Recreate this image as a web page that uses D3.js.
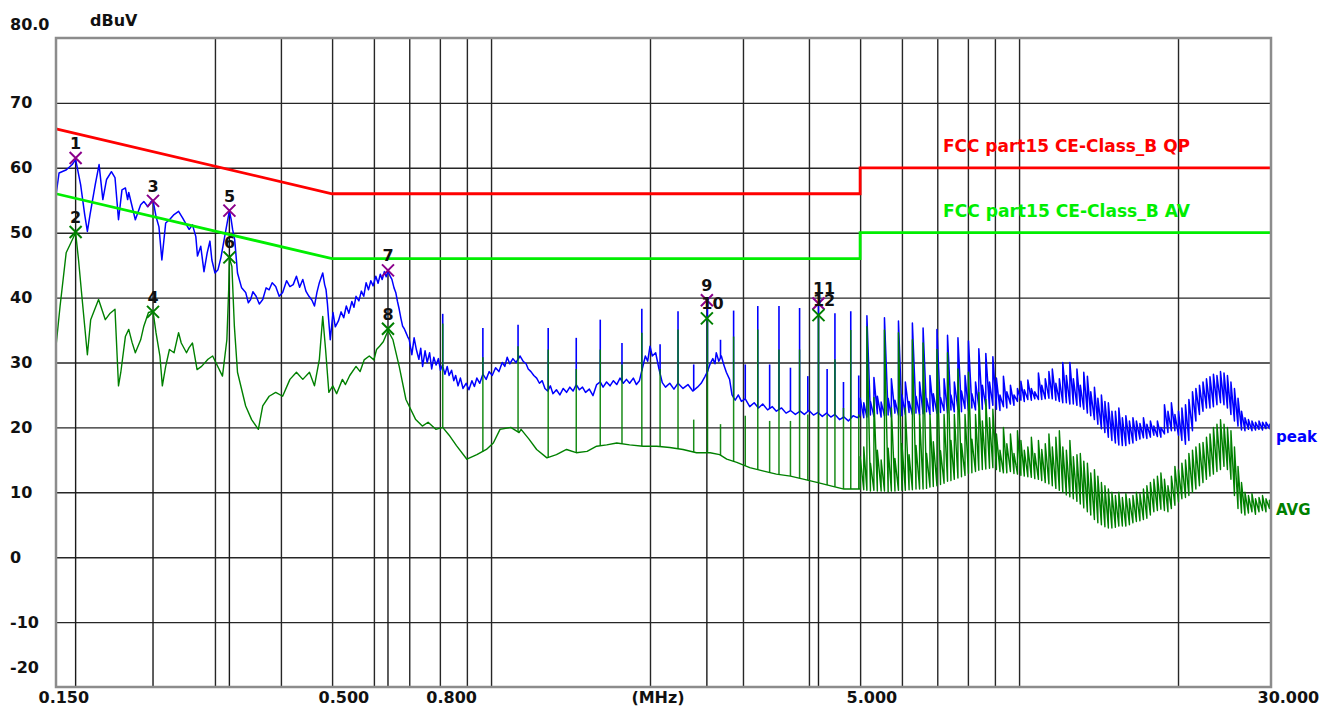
<!DOCTYPE html>
<html><head><meta charset="utf-8">
<script src="https://cdn.jsdelivr.net/npm/d3@7"></script>
<style>
html,body{margin:0;padding:0;background:#fff;}
svg{display:block;}
</style></head><body>
<svg id="chart" width="1319" height="709"></svg>
<script>
// ---------- data ----------
const yTicks = [80, 70, 60, 50, 40, 30, 20, 10, 0, -10, -20];
const xGridFreqs = [0.3, 0.4, 0.5, 0.6, 0.7, 0.8, 0.9, 1, 2, 3, 4, 5, 6, 7, 8, 9, 10, 20];
const xLabelFreqs = [0.15, 0.5, 0.8, 5, 30];

const qpLimit = [[0.15, 66], [0.5, 56], [5, 56], [5, 60], [30, 60]];
const avLimit = [[0.15, 56], [0.5, 46], [5, 46], [5, 50], [30, 50]];
const qpLabel = "FCC part15 CE-Class_B QP";
const avLabel = "FCC part15 CE-Class_B AV";

// peak trace below 5 MHz (MHz, dBuV)
const peakData = [
[0.150,55.8],[0.152,59.2],[0.157,59.7],[0.161,60.5],[0.1634,61.3],[0.167,57.4],[0.170,52.8],[0.172,50.2],[0.174,52.8],[0.178,57.4],
[0.181,60.5],[0.184,55.1],[0.187,58.2],[0.191,59.4],[0.194,58.5],[0.197,52.0],[0.200,56.6],[0.203,56.9],[0.205,55.1],[0.206,56.2],
[0.212,52.0],[0.217,54.3],[0.220,54.8],[0.224,54.0],[0.227,54.8],[0.229,55.0],[0.232,52.5],[0.235,50.9],[0.238,45.8],[0.242,51.5],
[0.246,52.0],[0.251,52.8],[0.256,53.3],[0.2605,52.3],[0.265,51.2],[0.268,50.5],[0.272,51.2],[0.276,49.4],[0.278,46.4],[0.282,47.9],
[0.286,44.0],[0.290,46.9],[0.2935,48.7],[0.296,45.8],[0.300,43.8],[0.304,44.3],[0.308,46.2],[0.313,49.4],[0.3195,53.4],[0.322,52.0],
[0.324,50.5],[0.327,48.9],[0.331,43.8],[0.337,41.5],[0.343,40.8],[0.347,39.2],[0.3505,39.7],[0.354,40.9],[0.359,40.2],[0.364,39.0],
[0.3695,39.7],[0.375,41.5],[0.380,41.2],[0.385,42.3],[0.391,41.7],[0.397,40.2],[0.403,40.8],[0.410,42.6],[0.416,41.7],[0.422,42.0],
[0.428,43.3],[0.434,41.6],[0.440,42.8],[0.446,41.0],[0.452,40.2],[0.458,39.6],[0.463,38.7],[0.468,40.8],[0.473,42.3],[0.480,43.8],
[0.484,42.0],[0.487,41.2],[0.490,39.0],[0.493,36.2],[0.496,33.5],[0.502,37.7],[0.507,35.5],[0.514,36.4],[0.520,37.8],[0.526,36.9],
[0.532,38.7],[0.538,37.6],[0.545,39.4],[0.550,38.5],[0.555,40.2],[0.562,39.5],[0.568,41.0],[0.574,40.2],[0.580,42.3],[0.586,41.2],
[0.592,42.6],[0.598,41.8],[0.605,43.3],[0.611,42.2],[0.617,43.6],[0.622,42.8],[0.628,44.0],[0.633,43.2],[0.638,44.1],[0.644,43.3],
[0.649,42.8],[0.655,41.5],[0.660,40.8],[0.665,39.4],[0.670,38.2],[0.675,36.8],[0.680,35.6],[0.685,35.2],[0.690,34.6],[0.695,34.0],
[0.700,33.5],[0.708,31.2],[0.715,33.8],[0.722,32.0],[0.730,30.5],[0.736,32.2],[0.742,29.4],[0.750,31.8],[0.757,30.0],[0.765,31.5],
[0.772,29.0],[0.779,30.8],[0.787,29.6],[0.795,30.6],[0.802,28.8],[0.809,29.6],[0.818,28.2],[0.826,29.4],[0.833,28.0],[0.842,28.8],
[0.850,27.2],[0.857,28.0],[0.866,26.4],[0.875,27.6],[0.885,26.0],[0.897,26.8],[0.908,25.8],[0.920,27.2],[0.930,26.3],[0.940,27.6],
[0.952,26.8],[0.965,28.2],[0.979,27.4],[0.992,28.6],[1.005,28.0],[1.020,29.2],[1.035,28.6],[1.050,30.0],[1.062,29.4],[1.073,30.8],
[1.085,29.8],[1.100,30.6],[1.115,30.0],[1.135,31.0],[1.150,30.2],[1.165,29.8],[1.176,29.0],[1.190,28.6],[1.205,28.0],[1.220,27.6],
[1.235,26.8],[1.250,27.2],[1.265,26.0],[1.280,25.6],[1.295,26.4],[1.310,25.2],[1.330,25.8],[1.350,25.0],[1.370,26.0],[1.390,25.4],
[1.410,26.2],[1.430,25.6],[1.450,26.6],[1.470,25.8],[1.490,26.2],[1.510,25.4],[1.535,25.9],[1.560,24.9],[1.585,26.6],[1.610,27.0],
[1.630,26.2],[1.655,27.0],[1.680,26.4],[1.705,27.2],[1.730,26.6],[1.755,27.6],[1.780,26.8],[1.805,27.4],[1.830,26.8],[1.860,27.6],
[1.885,26.6],[1.910,27.2],[1.940,29.5],[1.960,31.0],[1.980,30.2],[2.000,32.5],[2.020,31.0],[2.050,31.5],[2.080,29.0],[2.110,26.9],
[2.140,26.2],[2.180,26.8],[2.220,25.9],[2.260,26.8],[2.310,26.0],[2.360,26.6],[2.410,25.6],[2.460,26.2],[2.500,26.8],[2.540,27.8],
[2.570,28.6],[2.600,29.8],[2.630,30.6],[2.655,29.8],[2.670,31.5],[2.700,30.2],[2.730,31.0],[2.760,29.6],[2.790,28.5],[2.830,27.4],
[2.860,25.0],[2.900,24.2],[2.940,25.0],[2.980,24.0],[3.030,24.4],[3.090,23.2],[3.150,23.8],[3.210,23.0],[3.270,23.6],[3.340,22.7],
[3.410,23.2],[3.470,22.5],[3.550,23.0],[3.620,22.2],[3.690,22.6],[3.770,22.0],[3.850,22.5],[3.920,22.0],[4.000,22.6],[4.080,21.9],
[4.160,22.3],[4.240,21.7],[4.320,22.2],[4.400,21.6],[4.480,22.0],[4.570,21.2],[4.660,21.6],[4.750,21.0],[4.850,21.8],[4.940,21.5]
];

// average trace below 5 MHz (MHz, dBuV)
const avgData = [
[0.150,32.5],[0.1527,38.7],[0.1568,46.9],[0.1634,50.0],[0.1655,45.8],[0.1677,40.7],[0.172,31.2],[0.1745,36.6],[0.1806,39.7],[0.186,36.6],
[0.190,37.6],[0.194,38.2],[0.197,26.4],[0.199,28.5],[0.203,34.0],[0.206,35.1],[0.209,33.1],[0.212,31.5],[0.217,33.5],[0.220,35.6],
[0.2245,37.7],[0.229,37.9],[0.232,34.6],[0.236,31.0],[0.2385,26.4],[0.242,29.4],[0.246,32.0],[0.251,31.5],[0.256,34.6],[0.259,33.0],
[0.265,31.5],[0.268,32.3],[0.272,33.0],[0.2775,28.9],[0.283,29.4],[0.291,30.5],[0.297,31.0],[0.310,27.9],[0.316,33.5],[0.3185,41.2],
[0.3195,46.1],[0.323,44.8],[0.3265,35.6],[0.331,28.5],[0.343,23.3],[0.352,21.2],[0.3625,19.7],[0.3695,23.3],[0.380,24.8],[0.391,25.4],
[0.403,24.8],[0.416,27.4],[0.428,28.5],[0.440,27.4],[0.453,28.5],[0.463,26.4],[0.473,30.5],[0.480,37.1],[0.486,32.0],[0.493,25.4],
[0.5015,26.4],[0.510,25.2],[0.523,27.4],[0.530,26.6],[0.540,28.0],[0.555,29.4],[0.565,28.6],[0.575,30.4],[0.588,31.0],[0.600,30.4],
[0.607,32.0],[0.615,32.5],[0.625,33.2],[0.638,34.9],[0.652,33.5],[0.670,29.4],[0.690,24.3],[0.720,21.2],[0.741,20.2],[0.760,20.8],
[0.786,19.7],[0.810,20.0],[0.833,18.8],[0.860,17.2],[0.900,15.1],[0.940,15.8],[0.980,16.6],[1.010,17.6],[1.040,19.7],[1.090,20.0],
[1.130,19.2],[1.140,19.7],[1.180,18.2],[1.220,16.6],[1.276,15.3],[1.330,15.8],[1.390,16.6],[1.450,16.1],[1.520,16.3],[1.585,17.1],
[1.656,17.3],[1.730,17.6],[1.830,17.3],[1.940,17.1],[2.060,17.1],[2.180,16.9],[2.310,16.6],[2.450,16.1],[2.600,16.1],[2.710,15.8],
[2.795,15.1],[2.920,14.6],[3.090,13.8],[3.270,13.3],[3.470,12.8],[3.690,12.5],[3.920,12.0],[4.160,11.5],[4.400,11.0],[4.660,10.5],
[4.940,10.5]
];

// harmonic spikes 0.8 - 5 MHz: frequency, peak top, average top
const spikeFreq = [0.81,0.965,1.125,1.283,1.45,1.61,1.77,1.93,2.09,2.26,2.42,2.57,2.72,2.88,3.03,3.20,3.37,3.51,3.69,3.84,
  3.98,4.17,4.33,4.48,4.65,4.80,4.97];
const spikePeak = [37.5,35.3,35.8,35.3,33.8,36.6,33.0,38.3,32.8,37.9,29.7,39.5,33.5,38.0,29.7,38.7,29.7,38.7,29.2,38.4,
  27.9,38.9,29.0,37.6,27.0,37.9,28.0];
const spikeAvg = [36.0,30.8,32.5,32.0,29.0,32.0,29.7,34.6,29.0,35.1,21.2,36.7,20.5,34.0,21.8,35.1,21.0,32.0,21.0,32.0,
  22.0,37.3,22.0,30.5,23.0,35.0,22.0];

// sweep 5 - 30 MHz: frequency, peak low, peak high, average low, average high
const hfSweep = [
[5.00,21.8,24.5,10.5,15.5],[5.08,21.5,23.8,10.4,17.0],[5.15,21.6,37.2,10.3,35.5],[5.23,21.9,24.0,10.2,14.5],[5.31,21.7,27.7,10.3,24.6],
[5.39,22.1,24.8,10.2,16.5],[5.48,21.6,23.9,10.2,15.0],[5.56,21.8,36.9,10.2,35.0],[5.65,21.9,24.5,10.1,16.8],[5.73,21.6,27.5,10.2,23.0],
[5.82,22.2,24.2,10.2,15.2],[5.91,21.9,36.4,10.3,34.6],[6.00,21.8,25.0,10.3,17.5],[6.09,22.0,27.0,10.3,23.0],[6.19,22.3,24.0,10.4,15.8],
[6.28,22.0,36.1,10.4,33.5],[6.38,22.2,24.8,10.5,17.2],[6.48,21.9,27.0,10.5,22.0],[6.58,22.1,35.3,10.5,33.0],[6.68,22.4,24.5,10.6,16.0],
[6.78,22.0,28.0,10.8,22.0],[6.88,22.5,25.2,10.9,17.8],[6.99,22.2,35.1,11.0,32.0],[7.10,22.3,24.6,11.2,16.4],[7.21,22.6,27.5,11.4,22.0],
[7.32,22.2,34.2,11.7,31.5],[7.43,22.7,25.0,11.8,18.0],[7.54,22.4,27.0,12.0,22.0],[7.66,22.8,33.8,12.2,29.0],[7.78,22.4,25.6,12.4,17.5],
[7.90,22.9,28.0,12.6,22.0],[8.02,22.6,33.3,12.9,28.5],[8.14,23.0,25.2,13.0,18.2],[8.27,22.7,27.0,13.2,22.0],[8.39,23.2,32.1,13.4,25.4],
[8.52,22.8,26.5,13.5,21.0],[8.65,23.3,31.4,13.6,24.3],[8.79,22.9,27.0,13.7,21.5],[8.92,23.4,30.9,13.8,22.8],[9.06,22.8,27.6,13.5,19.0],
[9.20,22.6,25.0,13.2,16.5],[9.34,23.2,27.9,13.0,20.0],[9.48,23.0,25.5,13.0,17.5],[9.63,23.6,26.5,13.2,19.0],[9.78,23.4,25.0,12.9,16.0],
[9.93,24.0,26.0,12.8,19.5],[10.08,24.2,27.1,12.6,18.0],[10.23,24.0,25.8,12.5,16.5],[10.39,24.3,27.3,12.4,17.0],[10.55,24.2,26.0,12.3,18.5],
[10.71,24.4,25.5,12.1,16.0],[10.88,24.3,28.4,12.0,18.0],[11.04,24.3,26.5,11.8,16.6],[11.21,24.4,27.5,11.5,17.5],[11.39,24.5,28.6,11.3,19.0],
[11.56,24.4,29.0,11.0,17.0],[11.74,24.2,26.8,10.6,18.5],[11.92,24.0,27.5,10.3,19.5],[12.10,23.8,30.0,10.0,17.0],[12.29,23.8,28.0,9.6,16.5],
[12.48,23.6,30.0,9.3,18.0],[12.67,23.6,27.5,9.0,15.5],[12.87,23.4,29.0,8.6,15.8],[13.06,23.2,26.5,8.2,16.0],[13.26,22.8,28.5,7.6,14.8],
[13.47,22.2,27.9,7.0,14.5],[13.67,21.8,25.5,6.5,13.0],[13.89,21.2,26.2,5.8,13.5],[14.10,20.5,24.5,5.3,12.5],[14.32,19.8,25.0,5.0,11.5],
[14.54,19.2,24.0,4.7,11.0],[14.76,18.5,23.8,4.5,10.5],[14.99,18.0,22.5,4.5,10.0],[15.22,17.6,22.5,4.6,9.5],[15.45,17.3,23.0,4.8,10.0],
[15.69,17.2,21.5,4.8,9.2],[15.93,17.2,21.8,4.8,9.8],[16.18,17.5,21.0,5.0,9.0],[16.43,17.6,21.5,5.3,9.5],[16.68,18.0,21.0,5.5,10.0],
[16.94,18.2,20.6,5.6,9.8],[17.20,18.4,21.5,5.8,10.5],[17.46,18.3,20.5,6.0,11.0],[17.73,18.5,21.0,6.5,11.5],[18.00,18.8,20.2,7.0,12.0],
[18.28,18.6,21.0,7.2,12.5],[18.56,18.5,20.0,7.4,13.0],[18.85,19.0,23.5,7.2,12.0],[19.14,19.2,22.5,7.0,11.0],[19.43,19.5,23.8,7.5,12.5],
[19.73,19.5,22.0,8.0,14.0],[20.04,18.8,22.5,8.5,13.5],[20.34,18.0,23.0,9.0,14.5],[20.66,17.4,23.5,9.2,15.0],[20.97,18.0,24.3,9.5,16.0],
[21.30,19.5,25.5,10.0,16.5],[21.62,21.0,26.0,10.5,17.0],[21.96,22.0,26.5,11.0,17.5],[22.30,22.5,27.0,11.5,17.7],[22.64,23.0,27.5,12.0,18.5],
[22.99,23.0,27.8,12.5,19.0],[23.34,23.2,28.2,12.8,20.0],[23.70,23.5,28.0,13.2,20.5],[24.07,23.8,28.6,13.5,21.2],[24.44,23.5,28.4,14.0,20.5],
[24.81,23.0,28.0,13.5,20.0],[25.19,22.0,27.0,12.0,19.5],[25.58,21.0,26.0,9.5,17.0],[25.98,20.2,24.5,7.5,14.0],[26.38,19.6,22.5,6.8,11.5],
[26.78,19.5,21.5,6.5,10.0],[27.19,19.7,21.2,6.8,9.5],[27.61,19.5,21.0,7.0,9.8],[28.04,19.6,20.8,6.6,9.0],[28.47,19.7,21.0,7.0,9.2],
[28.91,19.6,20.8,7.2,9.5],[29.35,19.8,20.8,7.0,9.0],[29.80,19.8,20.5,7.5,8.8],[30.00,19.8,20.2,7.8,8.2]
];

// markers
const markerNo    = [1, 2, 3, 4, 5, 6, 7, 8, 9, 10, 11, 12];
const markerFreq  = [0.1634, 0.1634, 0.229, 0.229, 0.3195, 0.3195, 0.638, 0.638, 2.563, 2.563, 4.17, 4.17];
const markerLevel = [61.5, 50.1, 54.9, 37.8, 53.4, 46.2, 44.2, 35.2, 39.6, 36.8, 39.1, 37.3];
const markerTrace = ["peak","avg","peak","avg","peak","avg","peak","avg","peak","avg","peak","avg"];

// ---------- drawing ----------
const L = 56, R = 1271, T = 38, B = 687;
const FONT = "'DejaVu Sans', Verdana, sans-serif";
const svg = d3.select("#chart");
svg.append("rect").attr("width", 1319).attr("height", 709).attr("fill", "#fff");

const x = d3.scaleLog().domain([0.15, 30]).range([L, R]);
const y = d3.scaleLinear().domain([-20, 80]).range([B, T]);

// grid via axes
const gxGrid = svg.append("g").attr("transform", `translate(0,${B})`)
  .call(d3.axisBottom(x).tickValues(xGridFreqs).tickSize(-(B - T)).tickFormat(""));
gxGrid.select(".domain").remove();
gxGrid.selectAll("line").attr("stroke", "#262626").attr("stroke-width", 1.4);

const gyGrid = svg.append("g").attr("transform", `translate(${L},0)`)
  .call(d3.axisLeft(y).tickValues(yTicks.filter(d => d < 80 && d > -20)).tickSize(-(R - L)).tickFormat(""));
gyGrid.select(".domain").remove();
gyGrid.selectAll("line").attr("stroke", "#262626").attr("stroke-width", 1.4);

// marker drop lines
const markerIdx = d3.range(markerNo.length);
const dropGroups = d3.groups(markerIdx, i => markerFreq[i]);
svg.append("g").selectAll("line").data(dropGroups).join("line")
  .attr("x1", d => x(d[0])).attr("x2", d => x(d[0]))
  .attr("y1", d => y(d3.max(d[1], i => markerLevel[i])))
  .attr("y2", B)
  .attr("stroke", "#1a1a1a").attr("stroke-width", 1.4);

// helper: trace level at frequency (foot of a spike)
const bis = d3.bisector(d => d[0]).left;
function levelAt(data, f) {
  const i = bis(data, f);
  if (i <= 0) return data[0][1];
  if (i >= data.length) return data[data.length - 1][1];
  const a = data[i - 1], b = data[i];
  const t = (Math.log(f) - Math.log(a[0])) / (Math.log(b[0]) - Math.log(a[0]));
  return a[1] + t * (b[1] - a[1]);
}

// full traces: low-frequency part + each sweep row as a low/high pair
const peakTrace = peakData.concat(hfSweep.flatMap(r => [[r[0], r[1]], [r[0], r[2]]]));
const avgTrace = avgData.concat(hfSweep.flatMap(r => [[r[0], r[3]], [r[0], r[4]]]));

const line = d3.line().x(d => x(d[0])).y(d => y(d[1]));

// peak trace
svg.append("path").datum(peakTrace).attr("d", line)
  .attr("fill", "none").attr("stroke", "#0000ff").attr("stroke-width", 1.5).attr("stroke-linejoin", "round");
svg.append("g").selectAll("line").data(d3.range(spikeFreq.length)).join("line")
  .attr("x1", i => x(spikeFreq[i])).attr("x2", i => x(spikeFreq[i]))
  .attr("y1", i => y(levelAt(peakData, spikeFreq[i])))
  .attr("y2", i => y(spikePeak[i]))
  .attr("stroke", "#0000ff").attr("stroke-width", 1.6);

// average trace
svg.append("path").datum(avgTrace).attr("d", line)
  .attr("fill", "none").attr("stroke", "#008000").attr("stroke-width", 1.4).attr("stroke-linejoin", "round");
svg.append("g").selectAll("line").data(d3.range(spikeFreq.length)).join("line")
  .attr("x1", i => x(spikeFreq[i])).attr("x2", i => x(spikeFreq[i]))
  .attr("y1", i => y(levelAt(avgData, spikeFreq[i])))
  .attr("y2", i => y(spikeAvg[i]))
  .attr("stroke", "#008000").attr("stroke-width", 1.5).attr("stroke-opacity", 0.9);

// limit lines
svg.append("path").datum(qpLimit).attr("d", line)
  .attr("fill", "none").attr("stroke", "#ff0000").attr("stroke-width", 2.8);
svg.append("path").datum(avLimit).attr("d", line)
  .attr("fill", "none").attr("stroke", "#00ee00").attr("stroke-width", 2.8);

// markers
const mg = svg.append("g").selectAll("g").data(markerIdx).join("g")
  .attr("transform", i => `translate(${x(markerFreq[i])},${y(markerLevel[i])})`);
mg.append("path").attr("d", "M-6,-6L6,6M-6,6L6,-6")
  .attr("stroke", i => markerTrace[i] === "peak" ? "#8b008b" : "#008000")
  .attr("stroke-width", 2).attr("fill", "none");
mg.append("text").text(i => markerNo[i])
  .attr("x", -5.5).attr("y", -9)
  .attr("font-family", FONT).attr("font-weight", "bold").attr("font-size", 16).attr("fill", "#111");

// frame
svg.append("rect").attr("x", L).attr("y", T).attr("width", R - L).attr("height", B - T)
  .attr("fill", "none").attr("stroke", "#8c8c8c").attr("stroke-width", 2.5);

// y labels via axis
const yAx = svg.append("g").attr("transform", "translate(10,0)")
  .call(d3.axisLeft(y).tickValues(yTicks).tickSize(0).tickPadding(0)
    .tickFormat(d => d === 80 ? "80.0" : String(d)));
yAx.select(".domain").remove();
yAx.attr("font-family", null).attr("font-size", null);
yAx.selectAll("text")
  .attr("text-anchor", "start").attr("x", 0).attr("dy", null)
  .attr("y", d => d === 80 ? -9 : d === -20 ? -15 : 5)
  .attr("font-family", FONT).attr("font-weight", "bold").attr("font-size", 16).attr("fill", "#111");

// x labels via axis
const xAx = svg.append("g").attr("transform", `translate(0,${B})`)
  .call(d3.axisBottom(x).tickValues(xLabelFreqs).tickSize(0).tickPadding(0).tickFormat(d3.format(".3f")));
xAx.select(".domain").remove();
xAx.attr("font-family", null).attr("font-size", null);
xAx.selectAll("text")
  .attr("text-anchor", "start").attr("dy", null).attr("y", 16)
  .attr("x", d => d === 0.15 ? -18 : -14)
  .attr("font-family", FONT).attr("font-weight", "bold").attr("font-size", 16).attr("fill", "#111");

// axis titles
svg.append("text").text("dBuV").attr("x", 90).attr("y", 26)
  .attr("font-family", FONT).attr("font-weight", "bold").attr("font-size", 16).attr("fill", "#111");
svg.append("text").text("(MHz)").attr("x", 658).attr("y", 703).attr("text-anchor", "middle")
  .attr("font-family", FONT).attr("font-weight", "bold").attr("font-size", 16).attr("fill", "#111");

// limit labels
svg.append("text").text(qpLabel).attr("x", 943).attr("y", 152)
  .attr("textLength", 247).attr("lengthAdjust", "spacingAndGlyphs")
  .attr("font-family", FONT).attr("font-weight", "bold").attr("font-size", 17).attr("fill", "#ff0000");
svg.append("text").text(avLabel).attr("x", 943).attr("y", 217)
  .attr("textLength", 247).attr("lengthAdjust", "spacingAndGlyphs")
  .attr("font-family", FONT).attr("font-weight", "bold").attr("font-size", 17).attr("fill", "#00ee00");

// trace names
svg.append("text").text("peak").attr("x", 1276).attr("y", 442)
  .attr("font-family", FONT).attr("font-weight", "bold").attr("font-size", 15).attr("fill", "#0000ff");
svg.append("text").text("AVG").attr("x", 1276).attr("y", 515)
  .attr("font-family", FONT).attr("font-weight", "bold").attr("font-size", 15).attr("fill", "#008000");
</script>
</body></html>
